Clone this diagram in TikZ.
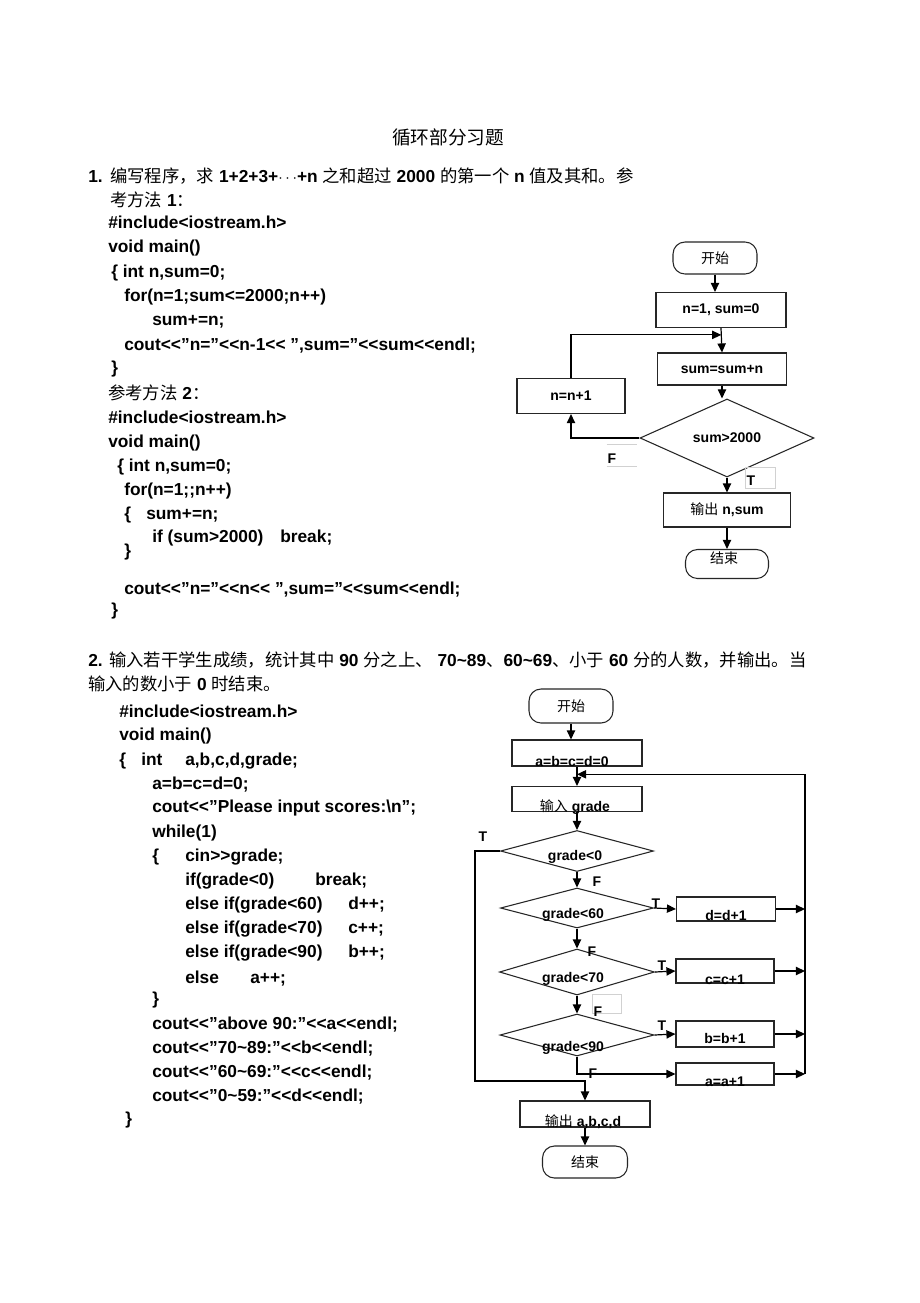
\documentclass[tikz,border=0pt]{standalone}
\usepackage{fontspec}
\newfontfamily\codefont{Liberation Sans}
\newfontfamily\zhfont{Noto Sans CJK SC}
\usepackage{tikz}
\usetikzlibrary{arrows.meta, shapes.geometric, calc, positioning}
\newdimen\px \px=0.75pt
\newcommand{\zh}[1]{{\zhfont\mdseries #1}}
\newcommand{\tabto}[2]{\makebox[#1\px][l]{#2}}
\tikzset{
    codenode/.style = {anchor=base west, inner sep=0em, font=\codefont\bfseries\fontsize{13}{15}\selectfont},
    flowtext/.style = {inner sep=0em, font=\codefont\bfseries\fontsize{10.5}{12}\selectfont},
    procnode/.style = {draw=black!85, rectangle, inner sep=0em, line width=0.8pt, flowtext},
    termnode/.style = {draw=black!85, rectangle, rounded corners=0.9em, inner sep=0em, line width=0.8pt,
      font=\zhfont\fontsize{10.5}{12}\selectfont},
    decnode/.style = {draw=black!85, diamond, inner sep=0em, line width=0.8pt, flowtext},
    tfnode/.style = {flowtext},
    faintnode/.style = {draw=black!18, line width=0.4pt, inner sep=0em},
    faint/.style = {draw=black!18, line width=0.4pt},
    size/.style 2 args = {minimum width=#1*0.75pt, minimum height=#2*0.75pt},
    lowtext/.style 2 args = {label={[flowtext, shift={(#1)}]center:#2}},
    flowline/.style = {black, line width=0.9pt},
    connect/.style = {black, line width=0.9pt, -{Triangle[length=6.8pt, width=6.2pt]}}
}

\begin{document}
\begin{tikzpicture}[x=0.75pt, y=-0.75pt]
\path [fill=white, use as bounding box] (0,0) rectangle (920,1303);

% title
\node [name=title, font=\zhfont\fontsize{14}{16}\selectfont] at (448,137) {循环部分习题};

% question 1
\node [name=q1a, codenode] at (88,182) {\tabto{22}{1.}\zh{编写程序，求} 1+2+3+\ensuremath{\cdots}+n \zh{之和超过} 2000 \zh{的第一个} n \zh{值及其和。参}};
\node [name=q1b, codenode] at (110,206) {\zh{考方法} 1\zh{：}};
\node [name=a1, codenode] at (108,228) {\#include<iostream.h>};
\node [name=a2, codenode] at (108,252) {void main()};
\node [name=a3, codenode] at (111,277) {\{ int n,sum=0;};
\node [name=a4, codenode] at (124,301) {for(n=1;sum<=2000;n++)};
\node [name=a5, codenode] at (152,325) {sum+=n;};
\node [name=a6, codenode] at (124,350) {cout<<”n=”<<n-1<< ”,sum=”<<sum<<endl;};
\node [name=a7, codenode] at (111,373) {\}};
\node [name=q1c, codenode] at (108,399) {\zh{参考方法} 2\zh{：}};
\node [name=b1, codenode] at (108,423) {\#include<iostream.h>};
\node [name=b2, codenode] at (108,447) {void main()};
\node [name=b3, codenode] at (117,471) {\{ int n,sum=0;};
\node [name=b4, codenode] at (124,495) {for(n=1;;n++)};
\node [name=b5, codenode] at (124,519) {\tabto{22}{\{}sum+=n;};
\node [name=b6, codenode] at (152,542) {\tabto{128}{if (sum>2000)}break;};
\node [name=b7, codenode] at (124,556) {\}};
\node [name=b8, codenode] at (124,594) {cout<<”n=”<<n<< ”,sum=”<<sum<<endl;};
\node [name=b9, codenode] at (111,615) {\}};

% flowchart 1
\node [name=start1, termnode, size={84}{32}] at (715,258) {开始};
\node [name=init1, procnode, size={130}{35}] at (721,310) {n=1, sum=0};
\node [name=add1, procnode, size={129}{32}] at (722,369) {sum=sum+n};
\node [name=test1, decnode, size={174}{59}] at (727,438) {sum>2000};
\node [name=inc1, procnode, size={108}{35}] at (571,396) {n=n+1};
\node [name=out1, procnode, size={127}{34}] at (727,510) {\zh{输出} n,sum};
\node [name=end1, termnode, size={83}{29}, lowtext={-3,-6}{\zh{结束}}] at (727,564) {};
\node [name=f1box, inner sep=0em, size={30}{21}] at (622,455) {};
\node [name=f1, tfnode] at (612,459) {F};
\node [name=t1box, faintnode, size={30}{21}] at (760,478) {};
\node [name=t1, tfnode] at (751,481) {T};
\draw [faint] (f1box.north west) -- (f1box.north east) (f1box.south west) -- (f1box.south east);

\coordinate (join1) at ($(init1.south)!0.28!(add1.north)$);
\draw [connect] (start1.south) -- (start1.south |- init1.north);
\draw [connect] (init1.south) -- (add1.north);
\draw [connect] (inc1.north) |- (join1);
\draw [connect] (add1.south) -- (add1.south |- test1.north);
\draw [connect] (test1.west) -| (inc1.south);
\draw [connect] (test1.south) -- (out1.north);
\draw [connect] (out1.south) -- (end1.north);

% question 2
\node [name=q2a, codenode] at (88,666) {2. \zh{输入若干学生成绩，统计其中} 90 \zh{分之上、} 70\textasciitilde 89\zh{、}60\textasciitilde 69\zh{、小于} 60 \zh{分的人数，并输出。当}};
\node [name=q2b, codenode] at (88,690) {\zh{输入的数小于} 0 \zh{时结束。}};
\node [name=c1, codenode] at (119,717) {\#include<iostream.h>};
\node [name=c2, codenode] at (119,740) {void main()};
\node [name=c3, codenode] at (119,765) {\tabto{22}{\{}\tabto{44}{int}a,b,c,d,grade;};
\node [name=c4, codenode] at (152,789) {a=b=c=d=0;};
\node [name=c5, codenode] at (152,812) {cout<<”Please input scores:\textbackslash n”;};
\node [name=c6, codenode] at (152,837) {while(1)};
\node [name=c7, codenode] at (152,861) {\tabto{33}{\{}cin>>grade;};
\node [name=c8, codenode] at (185,885) {\tabto{130}{if(grade<0)}break;};
\node [name=c9, codenode] at (185,909) {\tabto{163}{else if(grade<60)}d++;};
\node [name=c10, codenode] at (185,933) {\tabto{163}{else if(grade<70)}c++;};
\node [name=c11, codenode] at (185,957) {\tabto{163}{else if(grade<90)}b++;};
\node [name=c12, codenode] at (185,983) {\tabto{65}{else}a++;};
\node [name=c13, codenode] at (152,1004) {\}};
\node [name=c14, codenode] at (152,1029) {cout<<”above 90:”<<a<<endl;};
\node [name=c15, codenode] at (152,1053) {cout<<”70\textasciitilde 89:”<<b<<endl;};
\node [name=c16, codenode] at (152,1077) {cout<<”60\textasciitilde 69:”<<c<<endl;};
\node [name=c17, codenode] at (152,1101) {cout<<”0\textasciitilde 59:”<<d<<endl;};
\node [name=c18, codenode] at (125,1124) {\}};

% flowchart 2
\node [name=start2, termnode, size={84}{34}] at (571,706) {开始};
\node [name=init2, procnode, size={130}{26}, lowtext={-5,8}{a=b=c=d=0}] at (577,753) {};
\node [name=read2, procnode, size={130}{25}, lowtext={-2,8}{\zh{输入} grade}] at (577,799) {};
\node [name=neg2, decnode, size={153}{41}, lowtext={-2,6}{grade<0}] at (577,851) {};
\node [name=lt60, decnode, size={153}{40}, lowtext={-4,7}{grade<60}] at (577,908) {};
\node [name=lt70, decnode, size={155}{46}, lowtext={-4,7}{grade<70}] at (577,972) {};
\node [name=lt90, decnode, size={154}{42}, lowtext={-4,13}{grade<90}] at (577,1035) {};
\node [name=incd, procnode, size={99}{24}, lowtext={0,6}{d=d+1}] at (726,909) {};
\node [name=incc, procnode, size={98}{24}, lowtext={0,9}{c=c+1}] at (725,971) {};
\node [name=incb, procnode, size={98}{26}, lowtext={0,4}{b=b+1}] at (725,1034) {};
\node [name=inca, procnode, size={98}{22}, lowtext={0,8}{a=a+1}] at (725,1074) {};
\node [name=out2, procnode, size={130}{26}, lowtext={-2,8}{\zh{输出} a,b,c,d}] at (585,1114) {};
\node [name=end2, termnode, size={85}{32}] at (585,1162) {结束};

\node [name=tneg, tfnode] at (483,837) {T};
\node [name=fneg, tfnode] at (597,882) {F};
\node [name=t60, tfnode] at (656,904) {T};
\node [name=f60, tfnode] at (592,952) {F};
\node [name=t70, tfnode] at (662,966) {T};
\node [name=f70box, faintnode, size={29}{19}] at (607,1004) {};
\node [name=f70, tfnode] at (598,1012) {F};
\node [name=t90, tfnode] at (662,1026) {T};
\node [name=f90, tfnode] at (593,1074) {F};

\coordinate (join2) at ($(init2.south)!0.4!(read2.north)$);
\coordinate (rtop) at ($(join2)+(228,0)$);
\coordinate (lbot) at (475,1081);
\draw [connect] (start2.south) -- (start2.south |- init2.north);
\draw [connect] (init2.south) -- (read2.north);
\draw [connect] (rtop) -- (join2);
\draw [flowline] (rtop) -- (rtop |- inca.east);
\draw [connect] (read2.south) -- (neg2.north);
\draw [connect] (neg2.south) -- (lt60.north);
\draw [connect] (lt60.south) -- (lt70.north);
\draw [connect] (lt70.south) -- (lt90.north);
\draw [connect] (neg2.west) -| (lbot) -| (out2.north);
\draw [connect] (lt60.east) -- (incd.west);
\draw [connect] (lt70.east) -- (incc.west);
\draw [connect] (lt90.east) -- (incb.west);
\draw [connect] (lt90.south) |- (inca.west);
\draw [connect] (incd.east) -- (incd.east -| rtop);
\draw [connect] (incc.east) -- (incc.east -| rtop);
\draw [connect] (incb.east) -- (incb.east -| rtop);
\draw [connect] (inca.east) -- (inca.east -| rtop);
\draw [connect] (out2.south) -- (end2.north);
\end{tikzpicture}
\end{document}
